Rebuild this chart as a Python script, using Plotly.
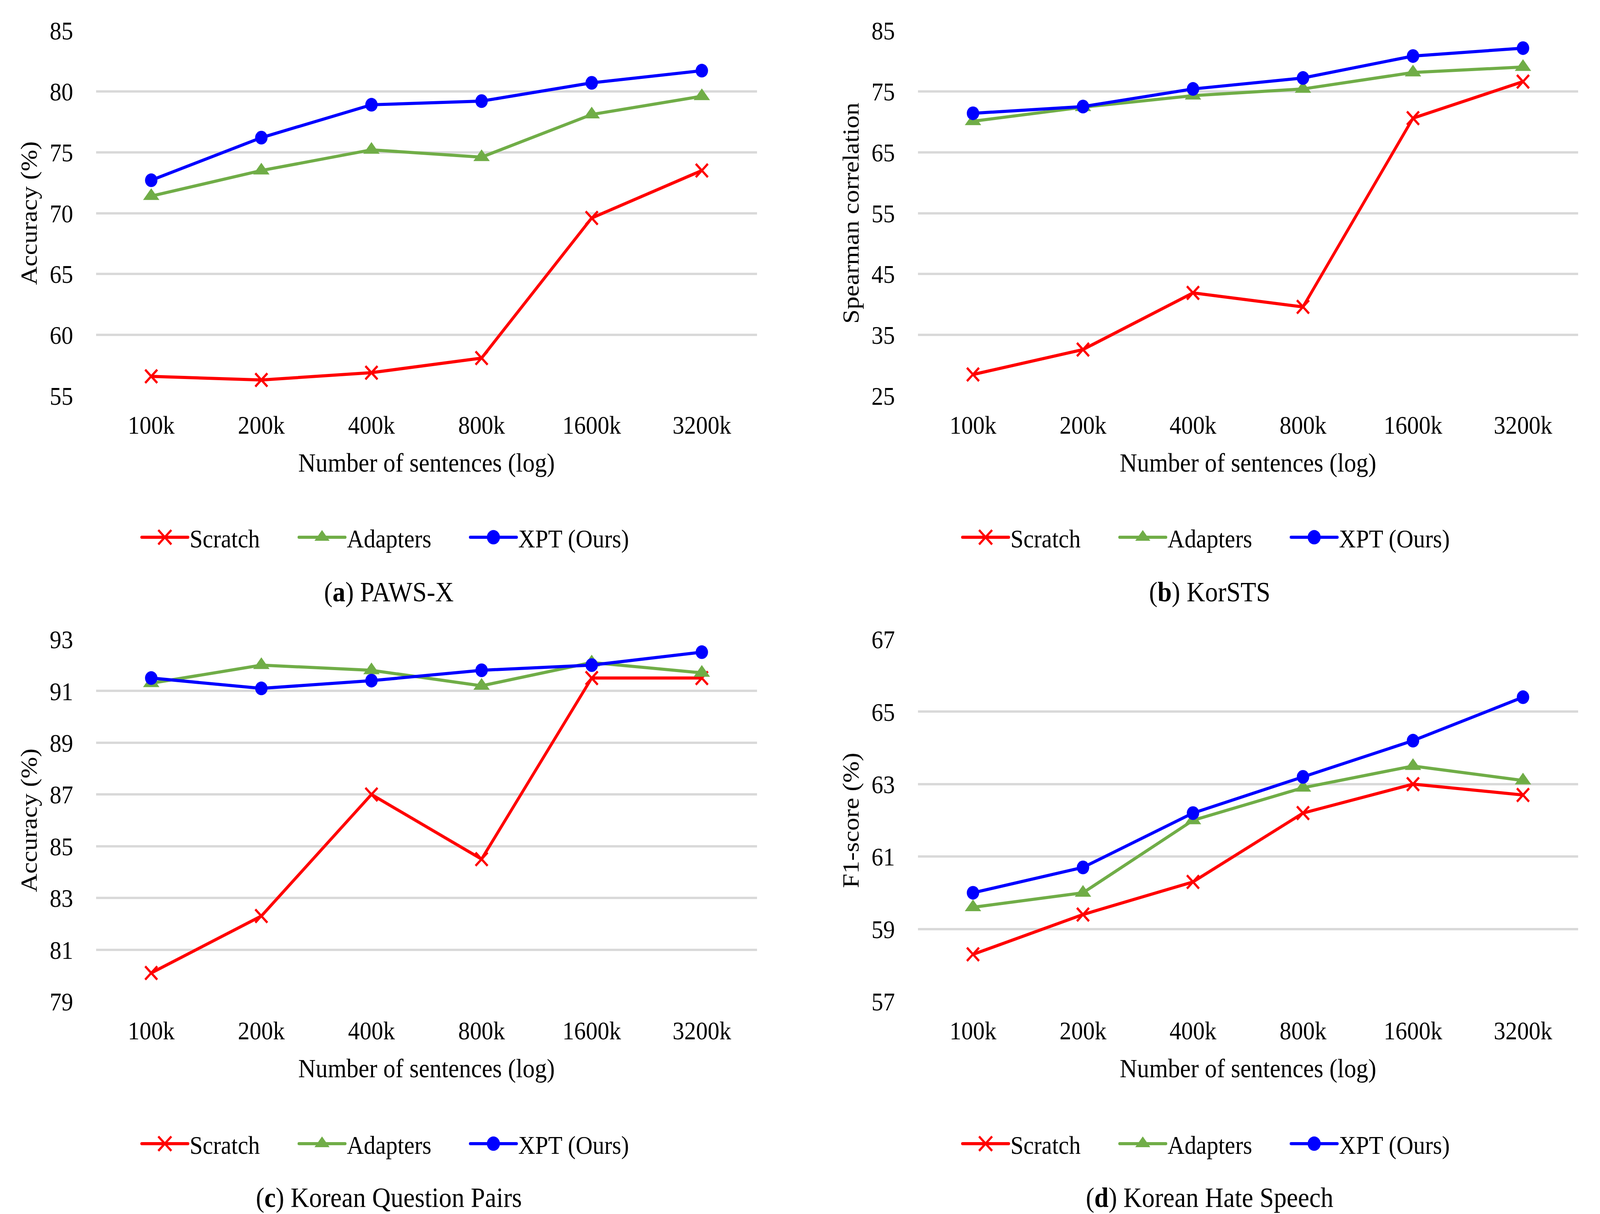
import plotly.graph_objects as go

categories = ["100k", "200k", "400k", "800k", "1600k", "3200k"]

# (a) PAWS-X
paws_scratch = [56.6, 56.3, 56.9, 58.1, 69.6, 73.5]
paws_adapters = [71.4, 73.5, 75.2, 74.6, 78.1, 79.6]
paws_xpt = [72.7, 76.2, 78.9, 79.2, 80.7, 81.7]

# (b) KorSTS
sts_scratch = [28.5, 32.6, 41.9, 39.6, 70.6, 76.6]
sts_adapters = [70.1, 72.4, 74.3, 75.4, 78.1, 79.0]
sts_xpt = [71.4, 72.5, 75.4, 77.2, 80.8, 82.1]

# (c) Korean Question Pairs
kqp_scratch = [80.1, 82.3, 87.0, 84.5, 91.5, 91.5]
kqp_adapters = [91.3, 92.0, 91.8, 91.2, 92.1, 91.7]
kqp_xpt = [91.5, 91.1, 91.4, 91.8, 92.0, 92.5]

# (d) Korean Hate Speech
khs_scratch = [58.3, 59.4, 60.3, 62.2, 63.0, 62.7]
khs_adapters = [59.6, 60.0, 62.0, 62.9, 63.5, 63.1]
khs_xpt = [60.0, 60.7, 62.2, 63.2, 64.2, 65.4]

series_names = ["Scratch", "Adapters", "XPT (Ours)"]
y_titles = ["Accuracy (%)", "Spearman correlation", "Accuracy (%)", "F1-score (%)"]
captions = ["(<b>a</b>) PAWS-X", "(<b>b</b>) KorSTS", "(<b>c</b>) Korean Question Pairs", "(<b>d</b>) Korean Hate Speech"]
y_ranges = [[55, 85], [25, 85], [79, 93], [57, 67]]
y_dticks = [5, 10, 2, 2]

panels = [
    [paws_scratch, paws_adapters, paws_xpt],
    [sts_scratch, sts_adapters, sts_xpt],
    [kqp_scratch, kqp_adapters, kqp_xpt],
    [khs_scratch, khs_adapters, khs_xpt],
]

W, H = 4509, 3107
FONT = "Liberation Serif"
colors = ["#FF0000", "#70AD47", "#0000FF"]
markers = [
    dict(symbol="x-thin", size=34, color=colors[0], line=dict(color=colors[0], width=6)),
    dict(symbol="triangle-up", size=40, color=colors[1]),
    dict(symbol="circle", size=35, color=colors[2]),
]
legend_widths = [298, 338, 332]

x_domains = [[271 / W, 2133 / W], [2587 / W, 4447 / W]]
y_domains = [[1 - 1013 / H, 1 - 78 / H], [1 - 2563 / H, 1 - 1636 / H]]
legend_x = [1096 / W, 3409 / W]
legend_y = [1 - 1375 / H, 1 - 2927 / H]
caption_y = [1 - 1515 / H, 1 - 3065 / H]

fig = go.Figure()
layout = dict(
    width=W, height=H, autosize=False,
    margin=dict(l=0, r=0, t=0, b=0),
    paper_bgcolor="white", plot_bgcolor="white",
    font=dict(family=FONT, size=66, color="black"),
    annotations=[],
)

for p in range(4):
    col = p % 2
    row = p // 2
    idx = "" if p == 0 else str(p + 1)
    leg = "legend" if p == 0 else "legend%d" % (p + 1)
    for s in range(3):
        fig.add_trace(go.Scatter(
            x=categories, y=panels[p][s], name=series_names[s],
            mode="lines+markers",
            line=dict(color=colors[s], width=8),
            marker=markers[s],
            xaxis="x" + idx, yaxis="y" + idx,
            legend=leg, legendwidth=legend_widths[s],
        ))
    layout["xaxis" + idx] = dict(
        domain=x_domains[col], anchor="y" + idx,
        type="category", categoryorder="array", categoryarray=categories,
        range=[-0.5, 5.5], showgrid=False, zeroline=False, showline=False,
        ticks="", ticklabelstandoff=30,
        tickfont=dict(family=FONT, size=66),
        title=dict(text="Number of sentences (log)", font=dict(family=FONT, size=68), standoff=36),
        automargin=False, fixedrange=True,
    )
    layout["yaxis" + idx] = dict(
        domain=y_domains[row], anchor="x" + idx,
        range=y_ranges[p], dtick=y_dticks[p], tick0=y_ranges[p][0],
        showgrid=True, gridcolor="#D9D9D9", gridwidth=6,
        zeroline=False, showline=False, ticks="", ticklabelstandoff=64,
        tickfont=dict(family=FONT, size=66),
        title=dict(text=y_titles[p], font=dict(family=FONT, size=66), standoff=14),
        automargin=False, fixedrange=True,
    )
    layout[leg] = dict(
        orientation="h", x=legend_x[col], y=legend_y[row],
        xanchor="center", yanchor="middle",
        font=dict(family=FONT, size=66), itemwidth=130,
        bgcolor="rgba(0,0,0,0)", traceorder="normal",
    )
    layout["annotations"].append(dict(
        text=captions[p], xref="paper", yref="paper",
        x=legend_x[col], y=caption_y[row], xanchor="center", yanchor="middle",
        showarrow=False, font=dict(family=FONT, size=72),
    ))

fig.update_layout(**layout)

# Fit the fixed-size figure exactly onto the visible window.
fit_script = """
(function() {
  var gd = document.getElementById('{plot_id}');
  var vw = window.innerWidth, vh = window.innerHeight;
  var sx = vw / %d, sy = vh / %d;
  [document.documentElement, document.body].forEach(function(el) {
    el.style.margin = '0';
    el.style.padding = '0';
    el.style.overflow = 'hidden';
    el.style.width = vw + 'px';
    el.style.height = vh + 'px';
  });
  var box = gd.parentElement;
  box.style.width = vw + 'px';
  box.style.height = vh + 'px';
  box.style.overflow = 'hidden';
  box.style.position = 'relative';
  gd.style.position = 'absolute';
  gd.style.left = '0';
  gd.style.top = '0';
  gd.style.transformOrigin = '0 0';
  gd.style.transform = 'scale(' + sx + ',' + sy + ')';
  // enlarge legend samples to match the line / marker sizes in the plot
  gd.querySelectorAll('.legendlines path').forEach(function(l) {
    l.style.strokeWidth = '8px';
    l.style.strokeLinecap = 'round';
  });
  gd.querySelectorAll('.legendpoints path.scatterpts').forEach(function(pt) {
    var t = pt.getAttribute('transform') || '';
    pt.setAttribute('transform', t + ' scale(2.3)');
    pt.style.vectorEffect = 'non-scaling-stroke';
    var sw = parseFloat(pt.style.strokeWidth || '0');
    if (sw > 0) { pt.style.strokeWidth = '6px'; }
  });
})();
""" % (W, H)

fig.write_html("out.html", post_script=fit_script, config={"displayModeBar": False})
